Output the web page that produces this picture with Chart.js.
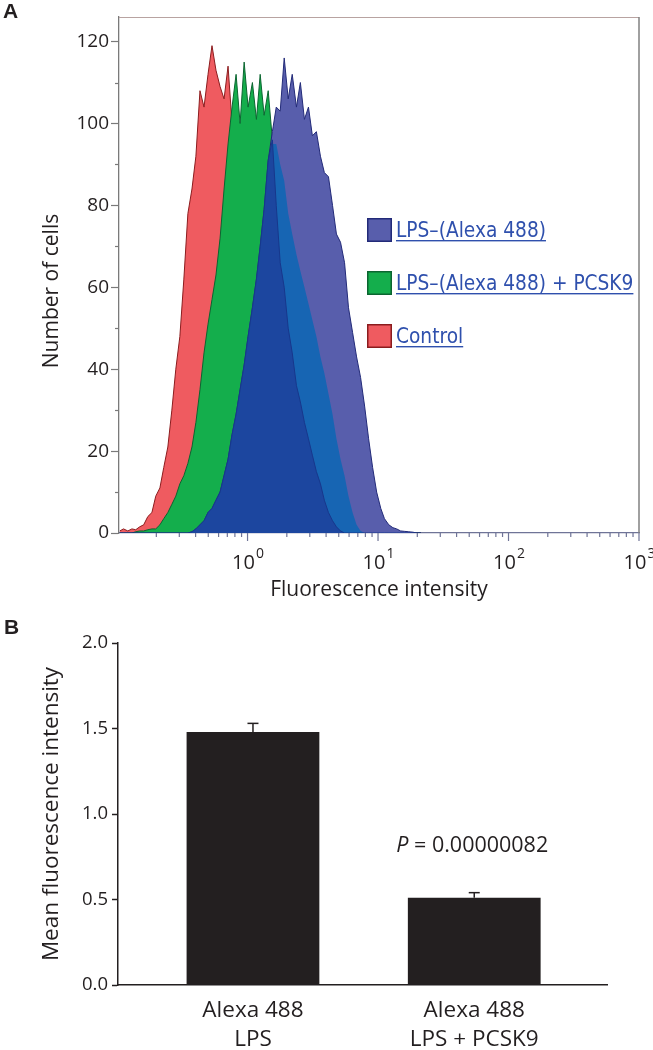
<!DOCTYPE html>
<html>
<head>
<meta charset="utf-8">
<script src="https://cdn.jsdelivr.net/npm/chart.js@4.4.1/dist/chart.umd.min.js"></script>
<style>
  body { margin: 0; background: #fff; }
  #wrap { position: relative; width: 653px; height: 1050px; }
  .box { position: absolute; left: 0; width: 653px; }
  .panel { position: absolute; font: bold 21px "Liberation Sans", Arial, sans-serif; color: #231f20; }
</style>
</head>
<body>
<div id="wrap">
  <div class="box" style="top:0;height:615px"><canvas id="histChart"></canvas></div>
  <div class="box" style="top:615px;height:435px"><canvas id="barChart"></canvas></div>
  <div class="panel" style="left:3px;top:-1px">A</div>
  <div class="panel" style="left:4px;top:615px">B</div>
</div>
<script>
// panel A: flow cytometry histograms (channel values on a log axis)
const fluorescence = [
  0.105, 0.112, 0.121, 0.130, 0.139, 0.149, 0.160, 0.172, 0.185, 0.198,
  0.213, 0.228, 0.245, 0.263, 0.282, 0.303, 0.325, 0.349, 0.375, 0.402,
  0.432, 0.464, 0.498, 0.534, 0.573, 0.616, 0.661, 0.709, 0.761, 0.817,
  0.877, 0.942, 1.01, 1.09, 1.17, 1.25, 1.34, 1.44, 1.55, 1.66,
  1.78, 1.91, 2.05, 2.20, 2.37, 2.54, 2.73, 2.93, 3.14, 3.37,
  3.62, 3.88, 4.17, 4.48, 4.80, 5.16, 5.54, 5.94, 6.38, 6.85,
  7.35, 7.89, 8.47, 9.09, 9.76, 10.5, 11.2, 12.1, 13.0, 13.9,
  14.9, 16.0, 17.2, 18.5, 19.8, 21.3
];
const controlCounts = [
  0.5, 1, 0.5, 1, 0.8, 1.5, 2, 4, 5, 9,
  11, 16, 21, 30, 40, 48, 62, 78, 84, 92,
  108, 104, 112, 119, 113, 109, 106, 114, 100, 96,
  92, 88, 80, 72, 64, 56, 48, 40, 33, 27,
  21, 16, 12, 8, 5, 3, 2, 1, 0.5, 0,
  0, 0, 0, 0, 0, 0, 0, 0, 0, 0,
  0, 0, 0, 0, 0, 0, 0, 0, 0, 0,
  0, 0, 0, 0, 0, 0
];
const lpsPcsk9Counts = [
  0, 0, 0, 0, 0.3, 0.5, 0.5, 0.8, 1, 1,
  2, 3.5, 5, 7, 9, 12, 14, 17, 21, 27,
  35, 44, 51, 57, 63, 72, 84, 95, 104, 112,
  100, 115, 104, 110, 101, 112, 102, 108, 96, 80,
  66, 60, 50, 44, 36, 32, 27, 23, 19, 15,
  12, 8, 5, 3, 1.5, 0.5, 0, 0, 0, 0,
  0, 0, 0, 0, 0, 0, 0, 0, 0, 0,
  0, 0, 0, 0, 0, 0
];
const lpsAlexaCounts = [
  0, 0, 0, 0, 0, 0, 0, 0, 0, 0,
  0, 0, 0, 0, 0, 0, 0, 0, 0.3, 1,
  2, 3, 5, 6, 8, 10, 14, 18, 24, 29,
  35, 41, 48, 55, 62, 70, 79, 91, 98, 104,
  103, 116, 106, 112, 104, 110, 101, 104, 97, 98,
  92, 88, 87, 80, 73, 71, 66, 55, 49, 43,
  38, 31, 23, 16, 10, 6, 3.5, 2, 1.3, 1,
  0.5, 0.4, 0.3, 0.2, 0, 0
];
// mid-blue band seen inside the LPS-(Alexa 488) histogram
const lpsInnerCounts = [
  0, 0, 0, 0, 0, 0, 0, 0, 0, 0,
  0, 0, 0, 0, 0, 0, 0, 0, 0.3, 1,
  2, 3, 5, 6, 8, 10, 14, 18, 24, 29,
  35, 41, 48, 55, 62, 70, 79, 90, 95, 95,
  90, 86, 78, 73, 68, 64, 60, 56, 52, 48,
  43, 39, 34, 29, 23, 18, 14, 9, 5, 2,
  0.5, 0, 0, 0, 0, 0, 0, 0, 0, 0,
  0, 0, 0, 0, 0, 0
];
const legendLabels = ['LPS\u2013(Alexa 488)', 'LPS\u2013(Alexa 488) + PCSK9', 'Control'];
const xDecades = [1, 10, 100, 1000];

// panel B: mean fluorescence
const groupLabels = [['Alexa 488', 'LPS'], ['Alexa 488', 'LPS + PCSK9']];
const groupPos = [1, 2];
const meanIntensity = [1.48, 0.51];
const semIntensity = [0.05, 0.03];
const pValue = '0.00000082';

Chart.defaults.font.family = "'Open Sans', sans-serif";
Chart.defaults.color = '#231f20';

// where the LPS histogram covers the PCSK9 one it turns dark blue
const overlapCounts = lpsAlexaCounts.map((v, i) => Math.min(v, lpsPcsk9Counts[i]));

function seg(ctx, x1, y1, x2, y2) {
  ctx.beginPath();
  ctx.moveTo(x1, y1);
  ctx.lineTo(x2, y2);
  ctx.stroke();
}

const histAxes = {
  id: 'histAxes',
  afterDraw(chart) {
    const { ctx, chartArea: ca, scales: { x, y } } = chart;
    ctx.save();
    ctx.strokeStyle = '#b8a3a1';
    ctx.lineWidth = 1;
    seg(ctx, ca.left, ca.top + 0.5, ca.right, ca.top + 0.5);
    ctx.strokeStyle = '#808080';
    ctx.lineWidth = 1.5;
    seg(ctx, ca.right, ca.top, ca.right, ca.bottom);
    // minor y ticks
    ctx.strokeStyle = '#7a7a7a';
    ctx.lineWidth = 1.2;
    for (let v = 10; v < y.max; v += 20) {
      const py = Math.round(y.getPixelForValue(v)) + 0.5;
      seg(ctx, ca.left - 4, py, ca.left, py);
    }
    // log ticks on x
    ctx.strokeStyle = '#6f7497';
    for (let e = -1; e <= 3; e++) {
      for (let k = 1; k <= 9; k++) {
        const v = k * Math.pow(10, e);
        if (v < x.min || v > x.max * 1.0001) continue;
        const px = x.getPixelForValue(v);
        seg(ctx, px, ca.bottom, px, ca.bottom + (k === 1 ? 8 : 4));
      }
    }
    ctx.fillStyle = '#231f20';
    ctx.textBaseline = 'alphabetic';
    xDecades.forEach(v => {
      const px = x.getPixelForValue(v);
      const exp = String(Math.round(Math.log10(v)));
      ctx.font = "20px 'Open Sans'";
      const w1 = ctx.measureText('10').width;
      ctx.font = "14px 'Open Sans'";
      const w2 = ctx.measureText(exp).width;
      const left = px - (w1 + w2) / 2;
      ctx.font = "20px 'Open Sans'";
      ctx.fillText('10', left, 569);
      ctx.font = "14px 'Open Sans'";
      ctx.fillText(exp, left + w1 + 1, 558);
    });
    // y title
    ctx.translate(52, 291);
    ctx.rotate(-Math.PI / 2);
    ctx.font = "21px 'Open Sans'";
    ctx.textAlign = 'center';
    ctx.textBaseline = 'middle';
    ctx.fillText('Number of cells', 0, 0);
    ctx.restore();
  }
};

const linkLegend = {
  id: 'linkLegend',
  afterDraw(chart) {
    const ctx = chart.ctx;
    const items = chart.data.datasets.filter(d => d.showInLegend)
      .sort((a, b) => legendLabels.indexOf(a.label) - legendLabels.indexOf(b.label));
    ctx.save();
    ctx.textBaseline = 'alphabetic';
    items.forEach((d, i) => {
      const top = 218 + i * 53;
      ctx.fillStyle = d.backgroundColor;
      ctx.fillRect(367, top, 25, 24);
      ctx.strokeStyle = d.borderColor;
      ctx.lineWidth = 1.5;
      ctx.strokeRect(367.75, top + 0.75, 23.5, 22.5);
      ctx.fillStyle = '#2f50ad';
      ctx.save();
      ctx.translate(396, top + 19);
      ctx.scale(1, 1.15);
      ctx.font = "18.6px 'DejaVu Sans'";
      ctx.fillText(d.label, 0, 0);
      const w = ctx.measureText(d.label).width;
      ctx.restore();
      ctx.fillRect(396, top + 22, w, 1.4);
    });
    ctx.restore();
  }
};

function histSet(label, data, fill, edge, order, inLegend) {
  return {
    label: label,
    data: data,
    backgroundColor: fill,
    borderColor: edge,
    borderWidth: 1,
    fill: 'origin',
    pointRadius: 0,
    tension: 0,
    order: order,
    showInLegend: inLegend
  };
}

new Chart(document.getElementById('histChart'), {
  type: 'line',
  data: {
    labels: fluorescence,
    datasets: [
      histSet(legendLabels[2], controlCounts, '#ef5b60', '#8b1c1e', 5, true),
      histSet(legendLabels[1], lpsPcsk9Counts, '#14ae4c', '#0b6530', 4, true),
      histSet(legendLabels[0], lpsAlexaCounts, '#585eac', '#222a78', 3, true),
      histSet('inner', lpsInnerCounts, '#1765b3', 'rgba(0,0,0,0)', 2, false),
      histSet('overlap', overlapCounts, '#1c469f', '#17378c', 1, false)
    ]
  },
  options: {
    responsive: true,
    maintainAspectRatio: false,
    animation: false,
    devicePixelRatio: 1,
    layout: { padding: { top: 17, right: 14, left: 0, bottom: 0 } },
    plugins: { legend: { display: false }, tooltip: { enabled: false } },
    scales: {
      x: {
        type: 'logarithmic',
        min: 0.1035,
        max: 1000,
        afterFit: s => { s.height = 82; },
        ticks: { display: false },
        grid: { display: false, drawTicks: false },
        border: { color: '#6f7497', width: 1.3 },
        title: {
          display: true,
          text: 'Fluorescence intensity',
          font: { size: 21 },
          padding: { top: 0, bottom: 12 }
        }
      },
      y: {
        min: 0,
        max: 126,
        afterFit: s => { s.width = 119; },
        ticks: { stepSize: 20, includeBounds: false, padding: 2, font: { size: 19 } },
        grid: { drawOnChartArea: false, drawTicks: true, tickLength: 8, tickColor: '#7a7a7a', tickWidth: 1.2 },
        border: { color: '#7a7a7a', width: 1.3 }
      }
    }
  },
  plugins: [histAxes, linkLegend]
});

const errorBars = {
  id: 'errorBars',
  afterDatasetsDraw(chart) {
    const { ctx, scales: { x, y } } = chart;
    const meta = chart.getDatasetMeta(0);
    ctx.save();
    ctx.strokeStyle = '#231f20';
    ctx.lineWidth = 1.5;
    meta.data.forEach((bar, i) => {
      const top = y.getPixelForValue(meanIntensity[i] + semIntensity[i]);
      seg(ctx, bar.x, bar.y, bar.x, top);
      seg(ctx, bar.x - 5.5, top, bar.x + 5.5, top);
    });
    // significance note above the PCSK9 bar
    const cx = x.getPixelForValue(groupPos[1]) - 2;
    const cy = y.getPixelForValue(0.775);
    ctx.fillStyle = '#231f20';
    ctx.textBaseline = 'alphabetic';
    ctx.font = "italic 21.5px 'Open Sans'";
    const wp = ctx.measureText('P').width;
    ctx.font = "21.5px 'Open Sans'";
    const rest = ' = ' + pValue;
    const wr = ctx.measureText(rest).width;
    const left = cx - (wp + wr) / 2;
    ctx.font = "italic 21.5px 'Open Sans'";
    ctx.fillText('P', left, cy);
    ctx.font = "21.5px 'Open Sans'";
    ctx.fillText(rest, left + wp, cy);
    ctx.restore();
  }
};

new Chart(document.getElementById('barChart'), {
  type: 'bar',
  data: {
    datasets: [{
      data: meanIntensity.map((m, i) => ({ x: groupPos[i], y: m })),
      backgroundColor: '#231f20',
      borderWidth: 0,
      barPercentage: 0.6,
      categoryPercentage: 1
    }]
  },
  options: {
    responsive: true,
    maintainAspectRatio: false,
    animation: false,
    devicePixelRatio: 1,
    layout: { padding: { top: 28, right: 46, left: 0, bottom: 0 } },
    plugins: { legend: { display: false }, tooltip: { enabled: false } },
    scales: {
      x: {
        type: 'linear',
        min: 0.39,
        max: 2.6,
        offset: false,
        afterFit: s => { s.height = 65; },
        afterBuildTicks: s => { s.ticks = groupPos.map(v => ({ value: v })); },
        ticks: {
          callback: (v, i) => groupLabels[i],
          font: { size: 22.5, lineHeight: 1.25 },
          padding: 12,
          maxRotation: 0,
          autoSkip: false
        },
        grid: { display: false, drawTicks: false, offset: false },
        border: { color: '#231f20', width: 1.5 }
      },
      y: {
        min: 0,
        max: 2,
        afterFit: s => { s.width = 118; },
        ticks: { stepSize: 0.5, padding: 4, font: { size: 18.5 }, callback: v => v.toFixed(1) },
        grid: { drawOnChartArea: false, drawTicks: true, tickLength: 6, tickColor: '#231f20', tickWidth: 1.5 },
        border: { color: '#231f20', width: 1.5 },
        title: {
          display: true,
          text: 'Mean fluorescence intensity',
          font: { size: 22.5 },
          padding: { top: 38, bottom: 0 }
        }
      }
    }
  },
  plugins: [errorBars]
});
</script>
</body>
</html>
